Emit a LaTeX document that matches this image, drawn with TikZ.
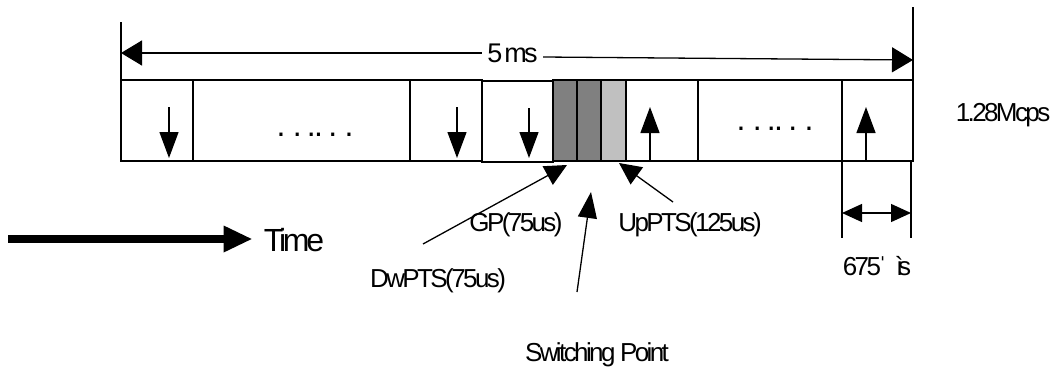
\documentclass[tikz,border=0pt]{standalone}
\usepackage{fontspec}
\setmainfont{Liberation Sans}[LetterSpace=-10]
\usetikzlibrary{arrows.meta,calc}
\definecolor{darkslot}{HTML}{808080}
\definecolor{lightslot}{HTML}{C0C0C0}
\newcommand{\dotrow}{.\hspace{7.3pt}.\hspace{5.3pt}.\hspace{-1.7pt}.\hspace{5.3pt}.\hspace{7.3pt}.}
\begin{document}
\begin{tikzpicture}[x=1pt,y=-1pt,
  lbl/.style={inner sep=0pt, font=\fontsize{26pt}{30pt}\selectfont},
  dots/.style={inner sep=0pt, font=\fontsize{32pt}{36pt}\selectfont},
  slot/.style={draw, line width=1.3pt, minimum height=81pt, inner sep=0pt, outer sep=0pt, anchor=north west},
  arr/.style={line width=1.3pt, -{Triangle[length=26pt,width=19pt]}},
  pointer/.style={line width=1.3pt, -{Triangle[length=22pt,width=21pt]}},
  dimline/.style={line width=1.3pt},
  bigarr/.style={line width=8pt, -{Triangle[length=28pt,width=27pt,line width=0pt]}},
  toparr/.style={line width=1.3pt, -{Triangle[length=21pt,width=25pt]}},
  dblarr/.style={line width=1.3pt, {Triangle[length=20pt,width=18pt]}-{Triangle[length=20pt,width=18pt]}}
]
\useasboundingbox (0,0) rectangle (1056,372);

% frame slots
\node[slot, minimum width=72pt]  (b1) at (121,80) {};
\node[slot, minimum width=217pt] (b2) at (193,80) {};
\node[slot, minimum width=72pt]  (b3) at (410,80) {};
\node[slot, minimum width=71pt]  (b4) at (482,81) {};
\node[slot, minimum width=24pt, fill=darkslot]  (g1) at (553,80) {};
\node[slot, minimum width=24pt, fill=darkslot]  (g2) at (577,80) {};
\node[slot, minimum width=25pt, fill=lightslot] (g3) at (601,80) {};
\node[slot, minimum width=72pt]  (b5) at (626,80) {};
\node[slot, minimum width=144pt] (b6) at (698,80) {};
\node[slot, minimum width=71pt]  (b7) at (842,80) {};

% dots
\node[dots] (d1) at (315,135) {\dotrow};
\node[dots] (d2) at (775,129) {\dotrow};

% down / up arrows in slots
\draw[arr] ([xshift=48pt,yshift=-27pt]b1.north west) -- ([xshift=48pt,yshift=3pt]b1.south west);
\draw[arr] ([xshift=47pt,yshift=-27pt]b3.north west) -- ([xshift=47pt,yshift=3pt]b3.south west);
\draw[arr] ([xshift=47pt,yshift=-27pt]b4.north west) -- ([xshift=47pt,yshift=4pt]b4.south west);
\draw[arr] ([xshift=24pt]b5.south west) -- ([xshift=24pt,yshift=-27pt]b5.north west);
\draw[arr] ([xshift=24pt]b7.south west) -- ([xshift=24pt,yshift=-27pt]b7.north west);

% 5 ms dimension
\coordinate (ltop) at (121,22);
\coordinate (rtop) at (913,7);
\draw[dimline] (ltop) -- (b1.south west);
\draw[dimline] (rtop) -- (b7.south east);
\coordinate (tl) at (121,53);
\coordinate (tr) at (913,60);
\node[inner sep=0pt, minimum width=61pt, minimum height=20pt, font=\fontsize{27pt}{30pt}\selectfont] (fivems) at (512.5,53) {5\hspace{2pt}ms};
\draw[toparr] (fivems.west) -- (tl);
\draw[toparr] ([yshift=-4pt]fivems.east) -- (tr);

% rate
\node[lbl] (rate) at (1003,115) {1.28Mcps};

% Time arrow
\coordinate (ts) at (8,239);
\node[inner sep=0pt, font=\fontsize{32pt}{36pt}\selectfont] (time) at (294,240) {Time};
\draw[bigarr] (ts) -- ([xshift=-12pt]time.west |- ts);

% labels
\node[lbl] (gp) at (516,225) {GP(75us)};
\node[lbl] (dw) at (438,281) {DwPTS(75us)};
\node[lbl] (up) at (690,225) {UpPTS(125us)};
\node[lbl] (sw) at (597,355) {Switching Point};

% pointers
\coordinate (dwsrc) at (423,244);
\draw[pointer] (dwsrc) -- ([xshift=2pt,yshift=-4pt]g1.south);
\coordinate (swsrc) at (577,292);
\draw[arr] (swsrc) -- ([xshift=2pt,yshift=-31pt]g2.south);
\coordinate (upsrc) at (673,202);
\draw[pointer] (upsrc) -- ([xshift=5.5pt,yshift=-2pt]g3.south);

% 675 dimension
\coordinate (dl) at (842,238);
\coordinate (dr) at (911,238);
\draw[dimline] (b7.south west) -- (dl);
\draw[dimline] (911,160) coordinate (drt) -- (dr);
\coordinate (al) at (842,213);
\coordinate (ar) at (911,213);
\draw[dblarr] (al) -- (ar);
\node[lbl] (us) at (877,266) {675ˈ\hspace{9pt}ì\kern-5pt s};
\end{tikzpicture}
\end{document}
